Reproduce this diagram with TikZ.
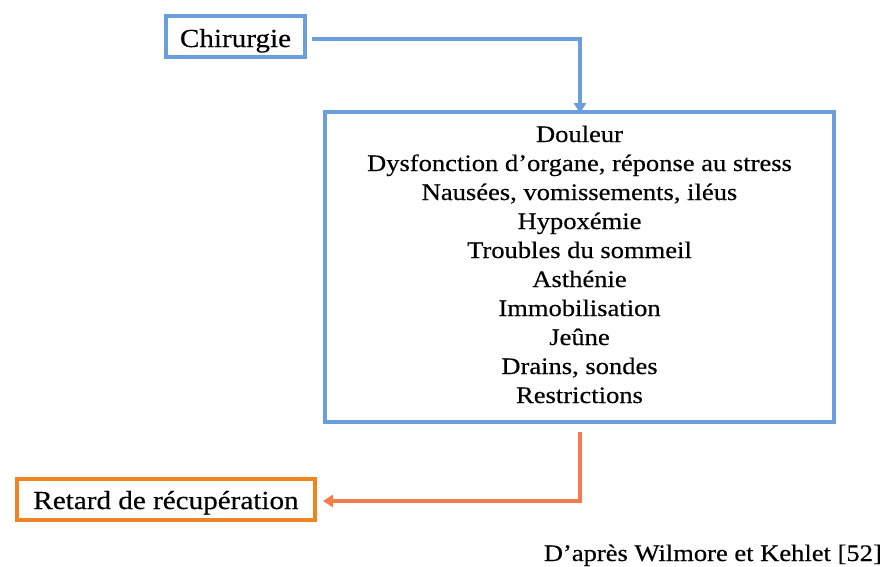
\documentclass[tikz,border=0pt]{standalone}
\usepackage{fontspec}
\setmainfont[FakeStretch=1.12,FakeBold=0.35]{Liberation Serif}
\usetikzlibrary{arrows.meta}
\definecolor{boxblue}{HTML}{6A9EDC}
\definecolor{boxorange}{HTML}{EE8422}
\definecolor{arroworange}{HTML}{F47C4A}
\newcommand\lst{\rule[-9pt]{0pt}{29pt}}
\begin{document}
\begin{tikzpicture}[x=1pt,y=-1pt,
  bluebox/.style={draw=boxblue,line width=3.8pt,inner sep=0pt,fill=white},
  orangebox/.style={draw=boxorange,line width=3.8pt,inner sep=0pt,fill=white},
  bigfont/.style={font=\fontsize{26}{30}\selectfont},
  bodyfont/.style={font=\fontsize{23.7}{29}\selectfont},
  conn/.style={line width=4pt,-{Triangle[length=10pt,width=12pt]}}]
\useasboundingbox (0,0) rectangle (885,566);
\node[bluebox,bigfont,minimum width=139pt,minimum height=41pt,text height=21pt,text depth=0pt] (chir) at (235.5,36.5) {Chirurgie};
\node[bluebox,bodyfont,align=center,minimum width=509pt,minimum height=310pt] (list) at (579.5,267) {\lst Douleur\\\lst Dysfonction d’organe, réponse au stress\\\lst Nausées, vomissements, iléus\\\lst Hypoxémie\\\lst Troubles du sommeil\\\lst Asthénie\\\lst Immobilisation\\\lst Jeûne\\\lst Drains, sondes\\\lst Restrictions};
\node[orangebox,bigfont,minimum width=298pt,minimum height=41pt,text height=19pt,text depth=0pt] (ret) at (166,499.5) {Retard de récupération};
\node[bodyfont,anchor=base east,inner sep=0pt] (src) at (882,561) {D’après Wilmore et Kehlet [52]};
\coordinate (c1) at (580,39);
\coordinate (c2) at (580,432);
\coordinate (c3) at (580,501);
\draw[conn,draw=boxblue] ([xshift=5pt]chir.east |- c1) -| ([yshift=-3pt]list.north -| c1);
\draw[conn,draw=arroworange] (c2) |- ([xshift=6pt]ret.east |- c3);
\end{tikzpicture}
\end{document}
